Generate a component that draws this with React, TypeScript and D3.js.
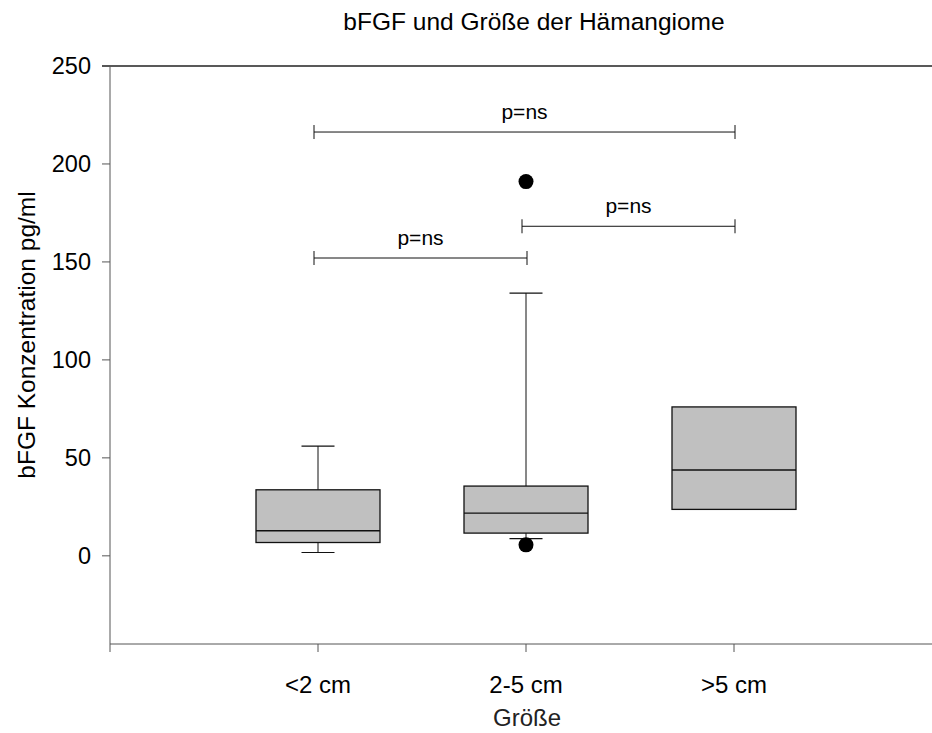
import React, { useEffect } from 'react';
import * as d3 from 'd3';

const title = 'bFGF und Größe der Hämangiome';
const xTitle = 'Größe';
const yTitle = 'bFGF Konzentration pg/ml';

const categories = ['<2 cm', '2-5 cm', '>5 cm'];
const q1 = [6.8, 11.6, 23.7];
const medians = [12.8, 21.8, 43.8];
const q3 = [33.7, 35.6, 76];
const whiskerLow: (number | null)[] = [1.7, 8.8, null];
const whiskerHigh: (number | null)[] = [56, 134.1, null];
const outliers = [
  { cat: 1, value: 191 },
  { cat: 1, value: 5.6 }
];
const brackets = [
  { from: 0, to: 1, value: 152, label: 'p=ns' },
  { from: 1, to: 2, value: 168.2, label: 'p=ns' },
  { from: 0, to: 2, value: 216.3, label: 'p=ns' }
];
const yTicks = [0, 50, 100, 150, 200, 250];

const W = 932;
const H = 733;
const font = '"Liberation Sans", Arial, Helvetica, sans-serif';

const App: React.FC = () => {
  useEffect(() => {
    document.body.style.margin = '0';
  }, []);

  const x = d3.scaleLinear().domain([0, 4]).range([110, 942]);
  const y = d3.scaleLinear().domain([-45, 250]).range([644, 66]);
  const boxHalf = 62;
  const capHalf = 16.5;
  const stroke = '#111';

  return (
    <svg width={W} height={H} style={{ display: 'block', background: '#fff' }} fontFamily={font}>
      {/* title */}
      <text x={534} y={30} textAnchor="middle" fontSize={24.5} fill="#000">{title}</text>

      {/* frame / axes */}
      <line x1={102} x2={942} y1={y(250)} y2={y(250)} stroke="#222" strokeWidth={1.5} />
      <line x1={110} x2={110} y1={y(250)} y2={y(-45)} stroke="#555" strokeWidth={1} />
      <line x1={110} x2={942} y1={y(-45)} y2={y(-45)} stroke="#555" strokeWidth={1} />
      <line x1={110} x2={110} y1={y(-45)} y2={y(-45) + 8} stroke="#555" strokeWidth={1} />

      {yTicks.map(t => (
        <g key={t}>
          <line x1={102} x2={110} y1={y(t)} y2={y(t)} stroke="#555" strokeWidth={1} />
          <text x={91} y={y(t)} dy="0.36em" textAnchor="end" fontSize={23.5} fill="#000">{t}</text>
        </g>
      ))}

      {categories.map((c, i) => (
        <g key={c}>
          <line x1={x(i + 1)} x2={x(i + 1)} y1={y(-45)} y2={y(-45) + 8} stroke="#555" strokeWidth={1} />
          <text x={x(i + 1)} y={693} textAnchor="middle" fontSize={24} fill="#000">{c}</text>
        </g>
      ))}

      <text x={527} y={726} textAnchor="middle" fontSize={24} fill="#222">{xTitle}</text>
      <text transform={`translate(35,335) rotate(-90)`} textAnchor="middle" fontSize={24.5} fill="#000">{yTitle}</text>

      {/* boxes */}
      {categories.map((c, i) => {
        const cx = x(i + 1);
        const lo = whiskerLow[i];
        const hi = whiskerHigh[i];
        return (
          <g key={'box' + c}>
            {hi != null && (
              <>
                <line x1={cx} x2={cx} y1={y(q3[i])} y2={y(hi)} stroke={stroke} strokeWidth={1} />
                <line x1={cx - capHalf} x2={cx + capHalf} y1={y(hi)} y2={y(hi)} stroke={stroke} strokeWidth={1.2} />
              </>
            )}
            {lo != null && (
              <>
                <line x1={cx} x2={cx} y1={y(q1[i])} y2={y(lo)} stroke={stroke} strokeWidth={1} />
                <line x1={cx - capHalf} x2={cx + capHalf} y1={y(lo)} y2={y(lo)} stroke={stroke} strokeWidth={1.2} />
              </>
            )}
            <rect
              x={cx - boxHalf}
              y={y(q3[i])}
              width={boxHalf * 2}
              height={y(q1[i]) - y(q3[i])}
              fill="#c0c0c0"
              stroke={stroke}
              strokeWidth={1.3}
            />
            <line x1={cx - boxHalf} x2={cx + boxHalf} y1={y(medians[i])} y2={y(medians[i])} stroke={stroke} strokeWidth={1.3} />
          </g>
        );
      })}

      {outliers.map((o, k) => (
        <circle key={k} cx={x(o.cat + 1)} cy={y(o.value)} r={7.5} fill="#000" />
      ))}

      {/* significance brackets */}
      {brackets.map((b, k) => {
        const x1 = x(b.from + 1) - 4;
        const x2 = x(b.to + 1) + 1;
        const yy = y(b.value);
        return (
          <g key={'br' + k}>
            <line x1={x1} x2={x2} y1={yy} y2={yy} stroke={stroke} strokeWidth={1} />
            <line x1={x1} x2={x1} y1={yy - 7} y2={yy + 7} stroke={stroke} strokeWidth={1} />
            <line x1={x2} x2={x2} y1={yy - 7} y2={yy + 7} stroke={stroke} strokeWidth={1} />
            <text x={(x1 + x2) / 2} y={yy - 13} textAnchor="middle" fontSize={21} fill="#000">{b.label}</text>
          </g>
        );
      })}
    </svg>
  );
};

export default App;
